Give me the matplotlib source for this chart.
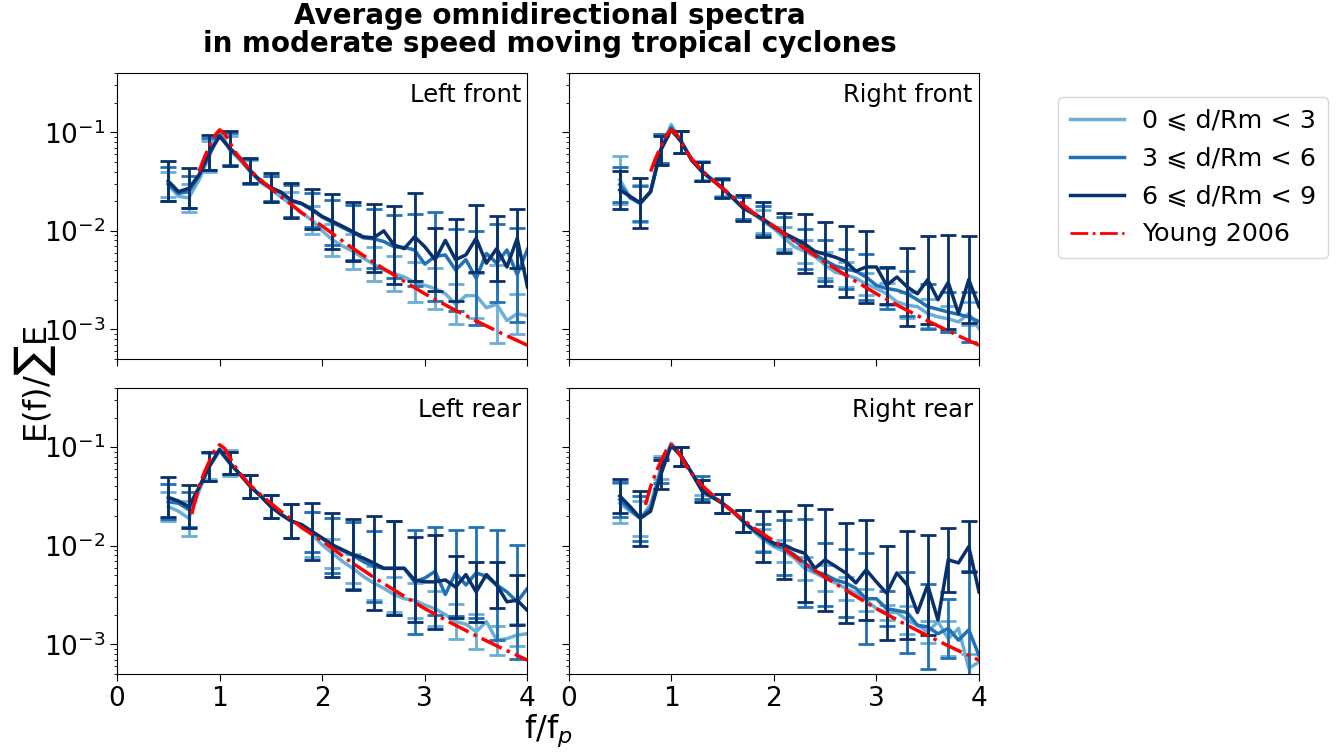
import numpy as np
import matplotlib
matplotlib.use("Agg")
import matplotlib.pyplot as plt
from matplotlib.lines import Line2D

# ---------------- data ----------------
freq = [0.5, 0.6, 0.7, 0.8, 0.9, 1.0, 1.1, 1.2, 1.3, 1.4, 1.5, 1.6, 1.7, 1.8,
        1.9, 2.0, 2.1, 2.2, 2.3, 2.4, 2.5, 2.6, 2.7, 2.8, 2.9, 3.0, 3.1, 3.2,
        3.3, 3.4, 3.5, 3.6, 3.7, 3.8, 3.9, 4.0]

panel_titles = ["Left front", "Right front", "Left rear", "Right rear"]
series_labels = ["0 \u2a7d d/Rm < 3", "3 \u2a7d d/Rm < 6", "6 \u2a7d d/Rm < 9"]
young_label = "Young 2006"

# Left front
lf_near = [0.0295, 0.0224, 0.0216, 0.033, 0.057, 0.102, 0.066, 0.052, 0.040, 0.031,
           0.0265, 0.022, 0.0185, 0.0151, 0.0129, 0.0100, 0.0081, 0.0070, 0.0062, 0.0053,
           0.0046, 0.0040, 0.0037, 0.0034, 0.0030, 0.0028, 0.0026, 0.0023, 0.0018, 0.0022,
           0.0022, 0.00166, 0.0018, 0.00123, 0.00144, 0.00138]
lf_mid = [0.030, 0.024, 0.025, 0.036, 0.060, 0.095, 0.068, 0.054, 0.040, 0.032,
          0.027, 0.0245, 0.0200, 0.0188, 0.0163, 0.0138, 0.0122, 0.0108, 0.0096, 0.0085,
          0.0083, 0.0078, 0.0069, 0.0068, 0.0064, 0.0046, 0.0055, 0.0057, 0.0040, 0.0051,
          0.0033, 0.0059, 0.0047, 0.0064, 0.0036, 0.0065]
lf_far = [0.032, 0.025, 0.027, 0.037, 0.062, 0.091, 0.069, 0.055, 0.041, 0.032,
          0.0275, 0.0247, 0.0204, 0.0190, 0.0166, 0.0140, 0.0125, 0.0111, 0.0098, 0.0087,
          0.0085, 0.0100, 0.0072, 0.0066, 0.0087, 0.0069, 0.0051, 0.0080, 0.0051, 0.0057,
          0.0084, 0.0047, 0.0066, 0.0043, 0.0084, 0.0027]

# Right front
rf_near = [0.033, 0.022, 0.019, 0.025, 0.068, 0.120, 0.080, 0.053, 0.041, 0.033,
           0.0273, 0.0216, 0.0171, 0.0148, 0.0125, 0.0106, 0.0085, 0.0069, 0.0062, 0.0055,
           0.0045, 0.0038, 0.0036, 0.0033, 0.0029, 0.0026, 0.0023, 0.0019, 0.00176, 0.0017,
           0.00145, 0.00134, 0.00128, 0.00119, 0.00145, 0.00102]
rf_mid = [0.0295, 0.0216, 0.019, 0.025, 0.068, 0.112, 0.080, 0.053, 0.040, 0.033,
          0.0273, 0.0216, 0.0171, 0.0150, 0.0128, 0.0108, 0.0092, 0.0080, 0.0066, 0.0058,
          0.0050, 0.0044, 0.0041, 0.0039, 0.0034, 0.0028, 0.0026, 0.0025, 0.0023, 0.0020,
          0.0017, 0.0016, 0.0015, 0.00142, 0.00134, 0.0012]
rf_far = [0.026, 0.0224, 0.0192, 0.025, 0.066, 0.106, 0.080, 0.052, 0.040, 0.033,
          0.027, 0.0216, 0.0171, 0.0151, 0.0131, 0.0111, 0.0095, 0.0084, 0.0074, 0.0062,
          0.0058, 0.0054, 0.0049, 0.0039, 0.0043, 0.0043, 0.0028, 0.0034, 0.0027, 0.0023,
          0.0032, 0.0020, 0.0030, 0.00145, 0.0032, 0.0017]

# Left rear
lr_near = [0.025, 0.0224, 0.019, 0.036, 0.064, 0.091, 0.069, 0.053, 0.040, 0.032,
           0.025, 0.0208, 0.0178, 0.0160, 0.0130, 0.0102, 0.0084, 0.0069, 0.0059, 0.0049,
           0.0042, 0.0037, 0.0032, 0.0029, 0.0028, 0.0025, 0.0023, 0.0020, 0.0017, 0.0016,
           0.00134, 0.0017, 0.0011, 0.00114, 0.00124, 0.00128]
lr_mid = [0.028, 0.027, 0.0233, 0.039, 0.064, 0.095, 0.069, 0.053, 0.040, 0.032,
          0.025, 0.0208, 0.0178, 0.0162, 0.0138, 0.0118, 0.0100, 0.0089, 0.0080, 0.0069,
          0.0062, 0.0059, 0.0059, 0.0059, 0.0043, 0.0047, 0.0055, 0.0032, 0.0053, 0.0040,
          0.0053, 0.0049, 0.0040, 0.0034, 0.0027, 0.0037]
lr_far = [0.031, 0.0284, 0.025, 0.039, 0.064, 0.095, 0.069, 0.053, 0.040, 0.032,
          0.025, 0.0208, 0.0178, 0.0164, 0.0140, 0.0120, 0.0102, 0.0091, 0.0081, 0.0075,
          0.0067, 0.0059, 0.0059, 0.0059, 0.0045, 0.0043, 0.0043, 0.0045, 0.0038, 0.0051,
          0.0034, 0.0051, 0.0040, 0.0027, 0.0028, 0.0022]

# Right rear
rr_near = [0.027, 0.0224, 0.019, 0.0262, 0.062, 0.110, 0.081, 0.055, 0.039, 0.032,
           0.027, 0.0224, 0.0178, 0.0140, 0.0115, 0.0098, 0.0088, 0.0075, 0.0059, 0.0053,
           0.0047, 0.0042, 0.0037, 0.0033, 0.0028, 0.0023, 0.0021, 0.0021, 0.00176, 0.00156,
           0.00134, 0.0017, 0.00114, 0.00145, 0.00057, 0.00066]
rr_mid = [0.0295, 0.0233, 0.019, 0.024, 0.058, 0.106, 0.081, 0.055, 0.039, 0.032,
          0.027, 0.0224, 0.0178, 0.0146, 0.0120, 0.0102, 0.0095, 0.0081, 0.0067, 0.0055,
          0.0051, 0.0045, 0.0042, 0.0037, 0.0029, 0.0029, 0.0023, 0.0022, 0.0021, 0.00156,
          0.0015, 0.00128, 0.00145, 0.0011, 0.0014, 0.00077]
rr_far = [0.032, 0.025, 0.019, 0.0224, 0.053, 0.104, 0.081, 0.055, 0.036, 0.031,
          0.027, 0.0224, 0.0178, 0.0146, 0.0124, 0.0106, 0.0102, 0.0091, 0.0084, 0.0059,
          0.0072, 0.0062, 0.0053, 0.0042, 0.0057, 0.0043, 0.0033, 0.0053, 0.0040, 0.0021,
          0.0040, 0.00176, 0.0072, 0.0067, 0.0098, 0.0034]

# multiplicative spread of the error bars at f/fp = 0.5, 0.7, ..., 3.9
lf_near_spread = [1.35, 1.4, 1.45, 1.4, 1.3, 1.35, 1.35, 1.4, 1.45, 1.5, 1.5, 1.5, 1.6, 1.6, 1.6, 1.7, 2.5, 1.6]
lf_mid_spread = [1.5, 1.45, 1.45, 1.45, 1.35, 1.35, 1.45, 1.5, 1.7, 1.9, 2.0, 2.1, 2.3, 2.8, 2.6, 3.0, 2.5, 3.0]
lf_far_spread = [1.6, 1.6, 1.5, 1.5, 1.35, 1.4, 1.5, 1.6, 1.9, 2.0, 2.2, 2.5, 2.8, 2.1, 2.6, 2.2, 2.15, 2.0]
rf_near_spread = [1.75, 1.55, 1.4, 1.3, 1.25, 1.2, 1.3, 1.3, 1.3, 1.3, 1.35, 1.35, 1.3, 1.3, 1.35, 1.4, 1.35, 1.3]
rf_mid_spread = [1.5, 1.5, 1.4, 1.3, 1.25, 1.25, 1.3, 1.4, 1.5, 1.6, 1.6, 1.6, 1.7, 1.6, 1.7, 1.7, 1.6, 1.8]
rf_far_spread = [1.55, 1.8, 1.4, 1.3, 1.25, 1.25, 1.35, 1.5, 1.6, 2.0, 2.1, 2.3, 2.3, 1.55, 2.5, 2.8, 3.0, 2.75]
lr_near_spread = [1.4, 1.5, 1.35, 1.35, 1.3, 1.3, 1.5, 1.7, 1.4, 1.4, 1.5, 1.5, 1.5, 1.5, 1.5, 1.5, 1.4, 1.3]
lr_mid_spread = [1.5, 1.5, 1.4, 1.3, 1.3, 1.3, 1.5, 1.6, 1.9, 2.2, 2.3, 3.0, 3.4, 2.8, 2.75, 2.9, 3.6, 3.8]
lr_far_spread = [1.6, 1.65, 1.4, 1.3, 1.3, 1.3, 1.5, 1.95, 2.1, 2.3, 3.0, 3.0, 2.7, 3.0, 2.05, 2.0, 1.7, 1.8]
rr_near_spread = [1.6, 1.5, 1.3, 1.25, 1.2, 1.25, 1.3, 1.3, 1.3, 1.3, 1.35, 1.3, 1.3, 1.2, 1.4, 1.3, 1.5, 1.4]
rr_mid_spread = [1.5, 1.7, 1.35, 1.25, 1.3, 1.25, 1.3, 1.4, 1.9, 2.8, 2.1, 2.2, 2.9, 1.5, 2.6, 2.7, 2.0, 4.0]
rr_far_spread = [1.5, 1.9, 1.4, 1.25, 1.3, 1.25, 1.3, 1.8, 2.2, 3.1, 3.3, 3.2, 3.2, 3.0, 3.5, 3.2, 2.1, 1.8]

# Young (2006) reference spectrum
young_f = [0.73, 0.75, 0.8, 0.85, 0.9, 0.95, 1.0, 1.05, 1.1, 1.15, 1.2, 1.3, 1.4, 1.5,
           1.6, 1.7, 1.8, 2.0, 2.25, 2.5, 2.75, 3.0, 3.25, 3.5, 3.75, 4.0]
young_e = [0.021, 0.026, 0.040, 0.055, 0.072, 0.092, 0.106, 0.097, 0.079, 0.064, 0.054,
           0.041, 0.033, 0.027, 0.0222, 0.0185, 0.0153, 0.0112, 0.0072, 0.0048, 0.0033,
           0.0023, 0.00166, 0.00122, 0.00091, 0.00069]
young_start = [0.79, 0.78, 0.73, 0.75]

panels = [
    (lf_near, lf_mid, lf_far, lf_near_spread, lf_mid_spread, lf_far_spread),
    (rf_near, rf_mid, rf_far, rf_near_spread, rf_mid_spread, rf_far_spread),
    (lr_near, lr_mid, lr_far, lr_near_spread, lr_mid_spread, lr_far_spread),
    (rr_near, rr_mid, rr_far, rr_near_spread, rr_mid_spread, rr_far_spread),
]

colors = ["#6baed6", "#2171b5", "#08306b"]

plt.rcParams['font.family'] = ['DejaVu Sans']

# ---------------- figure ----------------
fig, axes = plt.subplots(2, 2, figsize=(13.38, 7.53), dpi=100, sharex=True, sharey=True)
fig.subplots_adjust(left=0.0874, right=0.7317, bottom=0.105, top=0.903,
                    wspace=0.1, hspace=0.101)

x = np.array(freq)
yf = np.array(young_f)
ye = np.array(young_e)

for ax, title, data, ystart in zip(axes.flat, panel_titles, panels, young_start):
    series = data[:3]
    spreads = data[3:]
    for vals, spr, c in zip(series, spreads, colors):
        v = np.array(vals)
        xe = x[::2]
        ve = v[::2]
        s = np.array(spr)
        ax.errorbar(xe, ve, yerr=[ve - ve / s, ve * s - ve], fmt="none",
                    ecolor=c, elinewidth=2, capsize=5.5, capthick=2)
        ax.plot(x, v, color=c, lw=2.5)
    m = yf >= ystart
    ax.plot(yf[m], ye[m], color="red", ls="-.", lw=2.5, zorder=5)
    ax.set_yscale("log")
    ax.set_xlim(0, 4)
    ax.set_ylim(5e-4, 0.4)
    ax.text(0.985, 0.965, title, transform=ax.transAxes, ha="right", va="top",
            fontsize=17.5)
    ax.tick_params(axis="both", which="major", labelsize=19, length=5)
    ax.set_xticks([0, 1, 2, 3, 4])

fig.suptitle("Average omnidirectional spectra\nin moderate speed moving tropical cyclones",
             x=0.411, y=0.997, fontsize=20, fontweight="bold", linespacing=1.0)
fig.text(0.026, 0.49, r"E(f)/$\sum$E", rotation=90, ha="center", va="center", fontsize=23)
fig.text(0.41, 0.03, r"f/f$_p$", ha="center", va="center", fontsize=23)

handles = [Line2D([], [], color=c, lw=2.5) for c in colors]
handles.append(Line2D([], [], color="red", ls="-.", lw=2))
fig.legend(handles, series_labels + [young_label], loc="upper left",
           bbox_to_anchor=(0.7815, 0.888), fontsize=18.3, frameon=True,
           handlelength=2.15, handletextpad=0.7, borderpad=0.45, labelspacing=0.55)

fig.savefig("out.png", dpi=100)
